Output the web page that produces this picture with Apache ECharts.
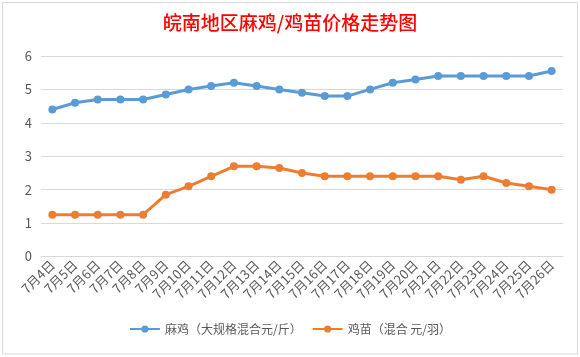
<!DOCTYPE html>
<html>
<head>
<meta charset="utf-8">
<script src="https://cdn.jsdelivr.net/npm/echarts@6/dist/echarts.min.js"></script>
<style>
html,body{margin:0;padding:0;background:#fff;}
#c{width:580px;height:357px;}
</style>
</head>
<body>
<div id="c"></div>
<script>
var categories = ['7月4日','7月5日','7月6日','7月7日','7月8日','7月9日','7月10日','7月11日','7月12日','7月13日','7月14日','7月15日','7月16日','7月17日','7月18日','7月19日','7月20日','7月21日','7月22日','7月23日','7月24日','7月25日','7月26日'];
var maji = [4.4,4.6,4.7,4.7,4.7,4.85,5.0,5.1,5.2,5.1,5.0,4.9,4.8,4.8,5.0,5.2,5.3,5.4,5.4,5.4,5.4,5.4,5.55];
var jimiao = [1.25,1.25,1.25,1.25,1.25,1.85,2.1,2.4,2.7,2.7,2.65,2.5,2.4,2.4,2.4,2.4,2.4,2.4,2.3,2.4,2.2,2.1,2.0];
var seriesNames = ['麻鸡（大规格混合元/斤）','鸡苗（混合 元/羽）'];
var titleText = '皖南地区麻鸡/鸡苗价格走势图';

var font = '"Noto Sans CJK SC", "Microsoft YaHei", sans-serif';
var chart = echarts.init(document.getElementById('c'));
chart.setOption({
  animation: false,
  backgroundColor: '#fff',
  textStyle: {fontFamily: font},
  title: {
    text: titleText, left: 'center', top: 8,
    textStyle: {color: '#ff0000', fontSize: 19, fontWeight: 500, fontFamily: font}
  },
  legend: {
    bottom: 17, left: 'center', itemWidth: 30, itemHeight: 9, itemGap: 10,
    textStyle: {color: '#595959', fontSize: 12, fontFamily: font},
    data: seriesNames
  },
  grid: {left: 41, right: 17, top: 56, bottom: 100.5},
  xAxis: {
    type: 'category', data: categories, boundaryGap: true,
    axisLine: {lineStyle: {color: '#d9d9d9'}},
    axisTick: {lineStyle: {color: '#d9d9d9'}, length: 5},
    axisLabel: {rotate: 45, color: '#595959', fontSize: 13, interval: 0, margin: 6, fontFamily: font}
  },
  yAxis: {
    type: 'value', min: 0, max: 6, interval: 1,
    axisLine: {show: false}, axisTick: {show: false},
    axisLabel: {color: '#595959', fontSize: 13, margin: 9, fontFamily: font},
    splitLine: {lineStyle: {color: '#d9d9d9'}}
  },
  graphic: [{
    type: 'rect', shape: {x: 2.5, y: 2.5, width: 575, height: 351.5},
    style: {fill: 'none', stroke: '#d9d9d9', lineWidth: 1}, silent: true
  }],
  series: [
    {name: seriesNames[0], type: 'line', data: maji, symbol: 'circle', symbolSize: 8,
     lineStyle: {width: 3, color: '#5b9bd5'}, itemStyle: {color: '#5b9bd5'}},
    {name: seriesNames[1], type: 'line', data: jimiao, symbol: 'circle', symbolSize: 8,
     lineStyle: {width: 3, color: '#ed7d31'}, itemStyle: {color: '#ed7d31'}}
  ]
});
</script>
</body>
</html>
